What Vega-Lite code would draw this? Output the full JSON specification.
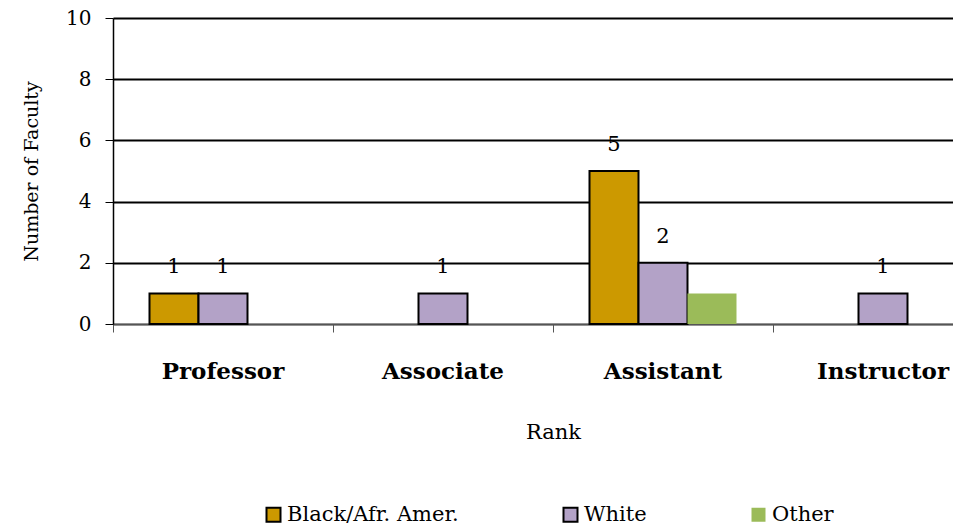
{
  "$schema": "https://vega.github.io/schema/vega-lite/v6.json",
  "width": 840,
  "height": 306,
  "autosize": "none",
  "padding": {"left": 113, "top": 18, "right": 0, "bottom": 202},
  "background": "white",
  "config": {"view": {"stroke": null}},
  "data": {
    "values": [
      {"rank": "Professor", "race": "Black/Afr. Amer.", "count": 1},
      {"rank": "Professor", "race": "White", "count": 1},
      {"rank": "Associate", "race": "White", "count": 1},
      {"rank": "Assistant", "race": "Black/Afr. Amer.", "count": 5},
      {"rank": "Assistant", "race": "White", "count": 2},
      {"rank": "Assistant", "race": "Other", "count": 1},
      {"rank": "Instructor", "race": "White", "count": 1}
    ]
  },
  "encoding": {
    "x": {
      "field": "rank",
      "type": "nominal",
      "sort": ["Professor", "Associate", "Assistant", "Instructor"],
      "scale": {"range": [0, 880], "paddingInner": 0, "paddingOuter": 0},
      "axis": {
        "title": "Rank",
        "titleFont": "DejaVu Serif",
        "titleFontSize": 21,
        "titleFontWeight": "normal",
        "titleColor": "black",
        "titlePadding": 38,
        "bandPosition": 0,
        "labelDx": 110,
        "labelAngle": 0,
        "labelFont": "DejaVu Serif",
        "labelFontSize": 23,
        "labelFontWeight": "bold",
        "labelColor": "black",
        "labelPadding": 28,
        "tickSize": 8,
        "tickColor": "#555",
        "domainColor": "#555",
        "domainWidth": 1.5,
        "grid": false
      }
    },
    "xOffset": {
      "field": "race",
      "type": "nominal",
      "scale": {"domain": ["Black/Afr. Amer.", "White", "Other"], "paddingInner": 0, "paddingOuter": 0.745}
    },
    "y": {
      "field": "count",
      "type": "quantitative",
      "scale": {"domain": [0, 10]},
      "axis": {
        "title": "Number of Faculty",
        "titleFont": "DejaVu Serif",
        "titleFontSize": 19,
        "titleFontWeight": "normal",
        "titleColor": "black",
        "titlePadding": 24,
        "values": [0, 2, 4, 6, 8, 10],
        "labelFont": "DejaVu Serif",
        "labelFontSize": 20,
        "labelColor": "black",
        "labelPadding": 14,
        "tickSize": 8,
        "tickColor": "black",
        "domainColor": "black",
        "domainWidth": 1.5,
        "grid": true,
        "gridColor": {"condition": {"test": "datum.value === 0", "value": "#555"}, "value": "black"},
        "gridWidth": 2
      }
    }
  },
  "layer": [
    {
      "mark": {"type": "bar", "strokeWidth": 2},
      "encoding": {
        "color": {
          "field": "race",
          "type": "nominal",
          "scale": {"domain": ["Black/Afr. Amer.", "White", "Other"], "range": ["#CC9900", "#B3A2C7", "#9BBB59"]},
          "legend": {
            "title": null,
            "orient": "none",
            "direction": "horizontal",
            "legendX": 150,
            "legendY": 486,
            "symbolType": "square",
            "symbolSize": 196,
            "symbolStrokeWidth": 2,
            "labelFont": "DejaVu Serif",
            "labelFontSize": 21,
            "labelColor": "black",
            "labelOffset": 3,
            "columnPadding": 100,
            "labelLimit": 300
          }
        },
        "stroke": {
          "field": "race",
          "type": "nominal",
          "scale": {"domain": ["Black/Afr. Amer.", "White", "Other"], "range": ["black", "black", "transparent"]},
          "legend": {
            "title": null,
            "orient": "none",
            "direction": "horizontal",
            "legendX": 150,
            "legendY": 486,
            "symbolType": "square",
            "symbolSize": 196,
            "symbolStrokeWidth": 2,
            "labelFont": "DejaVu Serif",
            "labelFontSize": 21,
            "labelColor": "black",
            "labelOffset": 3,
            "columnPadding": 100,
            "labelLimit": 300
          }
        }
      }
    },
    {
      "transform": [{"filter": "datum.race !== 'Other'"}],
      "mark": {"type": "text", "font": "DejaVu Serif", "fontSize": 21, "dy": -26, "color": "black"},
      "encoding": {"text": {"field": "count", "type": "nominal"}}
    }
  ]
}
